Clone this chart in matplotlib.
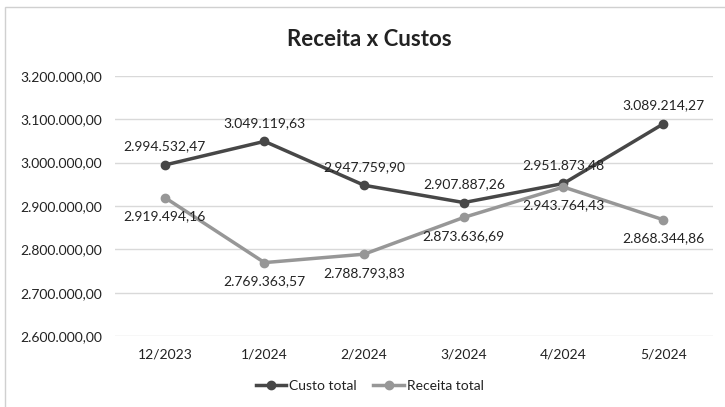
import matplotlib
matplotlib.use("Agg")
import matplotlib.pyplot as plt
from matplotlib.ticker import FuncFormatter
from matplotlib.patches import Rectangle

plt.rcParams['font.family'] = ['Lato', 'DejaVu Sans']

meses = ["12/2023", "1/2024", "2/2024", "3/2024", "4/2024", "5/2024"]
custo_total = [2994532.47, 3049119.63, 2947759.90, 2907887.26, 2951873.48, 3089214.27]
receita_total = [2919494.16, 2769363.57, 2788793.83, 2873636.69, 2943764.43, 2868344.86]


def brl(v, pos=None):
    # 1.234.567,89
    s = f"{v:,.2f}"
    return s.replace(",", "#").replace(".", ",").replace("#", ".")


cor_custo = "#474747"
cor_receita = "#979797"
cor_texto = "#222222"

fig = plt.figure(figsize=(7.25, 4.07), dpi=100)
fig.patch.set_facecolor("white")
ax = fig.add_axes([0.1586, 0.1744, 0.8248, 0.639])

x = range(len(meses))
ax.plot(x, custo_total, color=cor_custo, lw=2.5, marker="o", ms=6,
        label="Custo total", zorder=3)
ax.plot(x, receita_total, color=cor_receita, lw=2.5, marker="o", ms=6,
        label="Receita total", zorder=3)

for i, v in enumerate(custo_total):
    ax.annotate(brl(v), (i, v), xytext=(0, 9), textcoords="offset points",
                ha="center", va="bottom", fontsize=10, color=cor_texto)
for i, v in enumerate(receita_total):
    ax.annotate(brl(v), (i, v), xytext=(0, -9), textcoords="offset points",
                ha="center", va="top", fontsize=10, color=cor_texto)

ax.set_xlim(-0.5, len(meses) - 0.5)
ax.set_ylim(2600000, 3200000)
ax.set_yticks([2600000, 2700000, 2800000, 2900000, 3000000, 3100000, 3200000])
ax.yaxis.set_major_formatter(FuncFormatter(brl))
ax.set_xticks(list(x))
ax.set_xticklabels(meses)
ax.tick_params(length=0, labelsize=10, labelcolor=cor_texto)
ax.tick_params(axis="y", pad=9)
ax.tick_params(axis="x", pad=9)
ax.grid(axis="y", color="#d9d9d9", lw=1)
ax.set_axisbelow(True)
for s in ax.spines.values():
    s.set_visible(False)

fig.text(0.509, 0.902, "Receita x Custos", ha="center", va="center",
         fontsize=16, fontweight="bold", color=cor_texto)

fig.legend(loc="center", bbox_to_anchor=(0.51, 0.052), ncol=2, frameon=False,
           fontsize=10, handlelength=2.2, columnspacing=1.2, handletextpad=0.2,
           labelcolor=cor_texto)

# borda da área do gráfico
fig.patches.append(Rectangle((5 / 725, -0.2), 1.5, 1 - 7 / 407 + 0.2,
                             transform=fig.transFigure, fill=False,
                             edgecolor="#d0d0d0", lw=1))

fig.savefig("out.png", dpi=100, facecolor="white")
